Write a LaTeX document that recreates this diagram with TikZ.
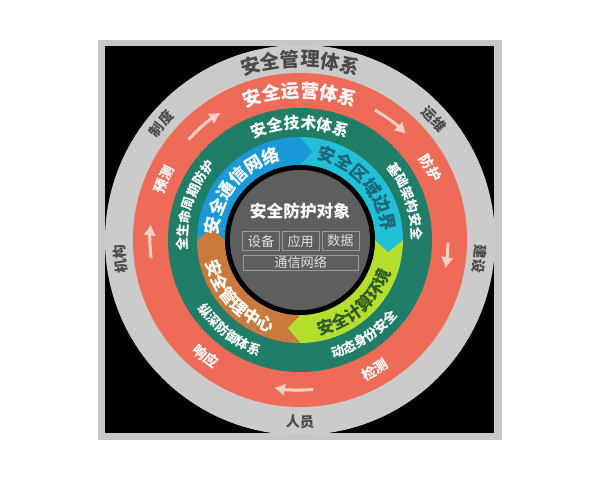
\documentclass[tikz,border=0pt]{standalone}
\usepackage{fontspec}
\newfontfamily\cjk{Noto Sans CJK SC}
\usetikzlibrary{decorations.text,arrows.meta,positioning}
\definecolor{framegray}{HTML}{C6C8C8}
\definecolor{ringgray}{HTML}{CBCBCB}
\definecolor{graytext}{HTML}{4A4A4A}
\definecolor{ringred}{HTML}{EE6B58}
\definecolor{arrowpink}{HTML}{F7D0C6}
\definecolor{ringteal}{HTML}{1F7D68}
\definecolor{segblue}{HTML}{1B98D8}
\definecolor{segcyan}{HTML}{22C0D8}
\definecolor{seglime}{HTML}{B6DE2F}
\definecolor{segorange}{HTML}{C97A3C}
\definecolor{cyantext}{HTML}{1B6676}
\definecolor{limetext}{HTML}{2F5A26}
\definecolor{centerdark}{HTML}{5E5E5E}
\definecolor{boxline}{HTML}{9A9A9A}
\newcommand\cwlabel[5]{\path[decorate,decoration={text along path,text align=center,text color=#1,
  text={|\cjk\bfseries\fontsize{#2}{#2}\selectfont|#5}}]
  ({#3+60}:#4) arc[start angle={#3+60},end angle={#3-60},radius=#4];}
\newcommand\ccwlabel[5]{\path[decorate,decoration={text along path,text align=center,text color=#1,
  text={|\cjk\bfseries\fontsize{#2}{#2}\selectfont|#5}}]
  ({#3-60}:#4) arc[start angle={#3-60},end angle={#3+60},radius=#4];}
\newcommand\quadseg[3]{\fill[#1] ({#2}:103) arc[start angle={#2},end angle={#3},radius=103]
  -- ({#3-8}:89) -- ({#3}:75) arc[start angle={#3},end angle={#2},radius=75] -- ({#2-8}:89) -- cycle;}
\tikzset{
  cyclearrow/.style={draw=arrowpink,line width=0.6mm,-{Latex[length=2.2mm,width=2.6mm]}},
  objbox/.style={draw=boxline,line width=0.4pt,inner sep=0pt,minimum width=7.4mm,minimum height=3.8mm,
    text=white!88!black,font=\cjk\fontsize{7.5pt}{7.5pt}\selectfont},
}
\begin{document}
\begin{tikzpicture}[x=0.2mm,y=0.2mm]
\useasboundingbox[fill=white] (-300,-240) rectangle (300,240);
\fill[framegray] (-202,-200) rectangle (202,200);
\fill[black] (-195,-193) rectangle (194,194);
\fill[ringgray] (0,0) circle[radius=195];
\fill[ringred] (0,0) circle[radius=167];
\fill[ringteal] (0,0) circle[radius=132];
\quadseg{segblue}{180}{90}
\quadseg{segcyan}{90}{0}
\quadseg{seglime}{0}{-90}
\quadseg{segorange}{-90}{-180}
\fill[black] (0,0) circle[radius=75];
\fill[centerdark] (0,0) circle[radius=70];
\cwlabel{graytext}{11pt}{90}{173.7}{安全管理体系}
\cwlabel{graytext}{8pt}{140}{175.7}{制度}
\cwlabel{graytext}{8pt}{42}{175.7}{运维}
\cwlabel{graytext}{8pt}{-6}{175.7}{建设}
\cwlabel{graytext}{8pt}{186}{175.7}{机构}
\ccwlabel{graytext}{8pt}{-90}{187}{人员}
\cwlabel{white}{10.5pt}{90}{142.5}{安全运营体系}
\cwlabel{white}{8pt}{156}{144}{预测}
\cwlabel{white}{8pt}{29}{144}{防护}
\ccwlabel{white}{8pt}{-60}{155.5}{检测}
\ccwlabel{white}{8pt}{-129}{155.5}{响应}
\draw[cyclearrow] (138:150) arc[start angle=138,end angle=122,radius=150];
\draw[cyclearrow] (60:150) arc[start angle=60,end angle=45,radius=150];
\draw[cyclearrow] (-1:148) arc[start angle=-1,end angle=-11,radius=148];
\draw[cyclearrow] (-85:150) arc[start angle=-85,end angle=-100,radius=150];
\draw[cyclearrow] (187:150) arc[start angle=187,end angle=174,radius=150];
\cwlabel{white}{9pt}{90}{111.5}{安全技术体系}
\cwlabel{white}{7.5pt}{162}{112.5}{全生命周期防护}
\cwlabel{white}{7.5pt}{20}{112.5}{基础架构安全}
\ccwlabel{white}{7.5pt}{-56}{123}{动态身份安全}
\ccwlabel{white}{7.5pt}{-128}{123}{纵深防御体系}
\cwlabel{white}{10pt}{140}{82.5}{安全通信网络}
\cwlabel{cyantext}{10pt}{42}{82.5}{安全区域边界}
\ccwlabel{limetext}{9.5pt}{-49}{97}{安全计算环境}
\ccwlabel{white}{9.5pt}{-137}{97}{安全管理中心}
\node[text=white,font=\cjk\bfseries\fontsize{9.5pt}{9.5pt}\selectfont] (obj) at (0,29) {安全防护对象};
\node[objbox] (dev) at (-39,-1) {设备};
\node[objbox,right=0.4mm of dev] (app) {应用};
\node[objbox,right=0.4mm of app] (dat) {数据};
\node[objbox,minimum width=23mm,minimum height=3mm,below=0.8mm of app] (net) {通信网络};
\end{tikzpicture}
\end{document}
